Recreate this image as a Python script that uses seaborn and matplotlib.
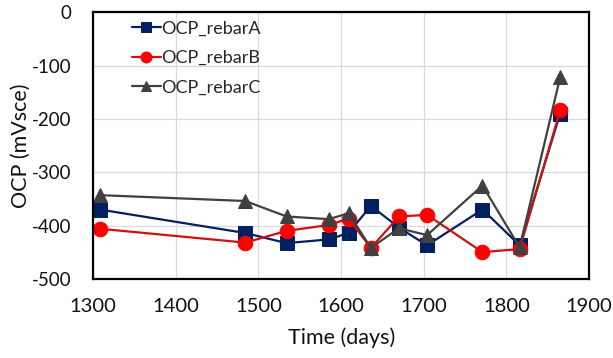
import numpy as np
import pandas as pd
import seaborn as sns
import matplotlib.pyplot as plt

# Measurement days and open-circuit potentials (mV vs SCE)
days = [1308, 1484, 1534, 1585, 1609, 1636, 1670, 1704, 1771, 1816, 1865]
ocp_rebarA = [-370, -414, -433, -426, -414, -363, -404, -437, -370, -437, -190]
ocp_rebarB = [-406, -432, -410, -399, -387, -442, -383, -380, -450, -444, -184]
ocp_rebarC = [-343, -354, -383, -388, -377, -442, -405, -418, -325, -441, -122]
series_names = ["OCP_rebarA", "OCP_rebarB", "OCP_rebarC"]
x_ticks = [1300, 1400, 1500, 1600, 1700, 1800, 1900]
y_ticks = [0, -100, -200, -300, -400, -500]

df = pd.DataFrame({
    "Time (days)": days * 3,
    "OCP (mVsce)": ocp_rebarA + ocp_rebarB + ocp_rebarC,
    "series": [n for n in series_names for _ in days],
})

sns.set_theme(style="white")
plt.rcParams["font.family"] = ["Lato", "DejaVu Sans"]
plt.rcParams["axes.unicode_minus"] = False

fig = plt.figure(figsize=(6.13, 3.58), dpi=100)
ax = fig.add_axes([0.152, 0.221, 0.809, 0.745])

line_colors = {"OCP_rebarA": "#002060", "OCP_rebarB": "#D01010", "OCP_rebarC": "#404040"}
face_colors = {"OCP_rebarA": "#002060", "OCP_rebarB": "#FF0000", "OCP_rebarC": "#404040"}
markers = {"OCP_rebarA": "s", "OCP_rebarB": "o", "OCP_rebarC": "^"}

for name in series_names:
    sub = df[df["series"] == name]
    sns.lineplot(data=sub, x="Time (days)", y="OCP (mVsce)", ax=ax,
                 color=line_colors[name], marker=markers[name], markersize=10.5,
                 markerfacecolor=face_colors[name], markeredgecolor=face_colors[name],
                 linewidth=1.6, label=name, sort=False)

ax.set_xlim(1300, 1900)
ax.set_ylim(-500, 0)
ax.set_xticks(x_ticks)
ax.set_yticks(y_ticks)
ax.grid(True, color="#d9d9d9", linewidth=0.9)
ax.set_axisbelow(True)
for s in ax.spines.values():
    s.set_color("black")
    s.set_linewidth(1.6)
ax.tick_params(axis="both", direction="inout", length=7, width=1.3, colors="black",
               labelsize=14.5, labelcolor="#111111")
ax.tick_params(axis="x", pad=10)
ax.tick_params(axis="y", pad=12, labelsize=13.5)
ax.set_xlabel("Time (days)", fontsize=15.5, color="#111111", labelpad=9)
ax.set_ylabel("OCP (mVsce)", fontsize=15.5, color="#111111", labelpad=1)

leg = ax.legend(loc="upper left", bbox_to_anchor=(0.045, 1.03), frameon=False,
                fontsize=13, handlelength=1.6, handletextpad=0.05, labelspacing=0.75,
                markerscale=0.75)

fig.savefig("out.png", dpi=100)
